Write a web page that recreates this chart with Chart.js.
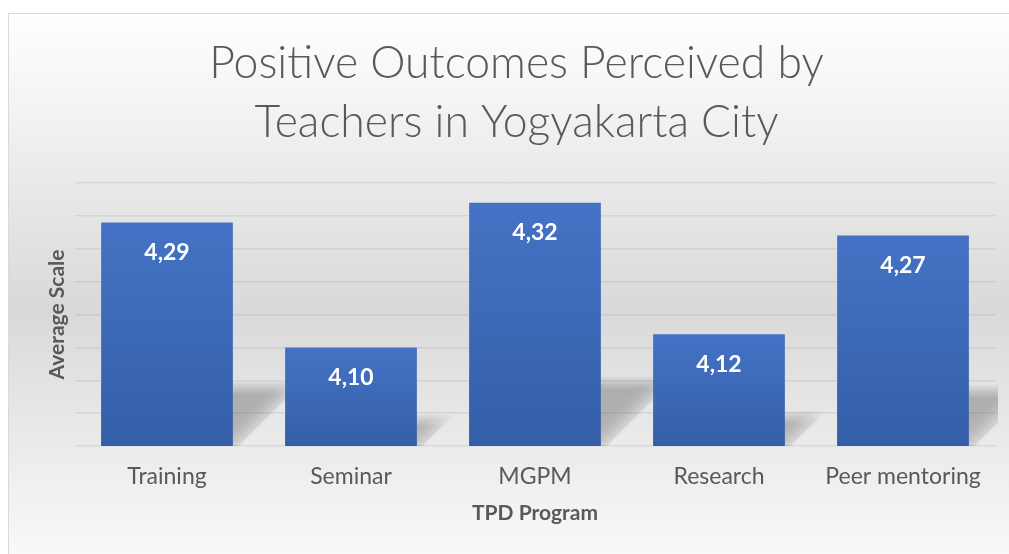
<!DOCTYPE html>
<html>
<head>
<meta charset="utf-8">
<script src="https://cdn.jsdelivr.net/npm/chart.js@4"></script>
<style>
  body { margin: 0; background: #fff; }
  #bg {
    position: absolute; left: 8px; top: 13px; width: 1020px; height: 590px;
    border-left: 1px solid #d9d9d9; border-top: 1px solid #d9d9d9;
    background: linear-gradient(to bottom, #ffffff 0%, #d9d9d9 50%, #ffffff 100%);
  }
  #wrap { position: absolute; left: 0; top: 0; width: 1009px; height: 554px; }
</style>
</head>
<body>
<div id="bg"></div>
<div id="wrap"><canvas id="chart"></canvas></div>
<script>
const programs = ["Training", "Seminar", "MGPM", "Research", "Peer mentoring"];
const averageScale = [4.29, 4.10, 4.32, 4.12, 4.27];
const chartTitle = ["Positive Outcomes Perceived by", "Teachers in Yogyakarta City"];

const FONT = "Lato, 'Open Sans', sans-serif";
const GREY = "#595959";

function fmt(v) {
    return v.toFixed(2).replace(".", ",");
}

// soft diagonal shadow behind each bar, faked with a few stacked translucent fills
const barShadow = {
    id: "barShadow",
    beforeDatasetsDraw(chart) {
        const ctx = chart.ctx;
        const area = chart.chartArea;
        const layers = 6;
        ctx.save();
        ctx.beginPath();
        ctx.rect(area.left, area.top, area.right - area.left + 3, area.bottom - area.top);
        ctx.clip();
        chart.getDatasetMeta(0).data.forEach((bar) => {
            // the axis starts above zero, so the real base is far below the plot
            const base = Math.min(bar.base, area.bottom);
            const h = base - bar.y;
            const sh = h * 0.26;
            const l = bar.x - bar.width / 2;
            const r = bar.x + bar.width / 2;
            for (let k = 0; k < layers; k++) {
                const d = (k - (layers - 1) / 2) * 2.4;
                const top = base - sh + d;
                const a = 5 + k * 1.5;
                const g = ctx.createLinearGradient(r - a, base - a, r + a, base + a);
                g.addColorStop(0, "rgba(0,0,0,0.045)");
                g.addColorStop(1, "rgba(0,0,0,0)");
                ctx.fillStyle = g;
                ctx.beginPath();
                ctx.moveTo(l, base);
                ctx.lineTo(r + 6, base);
                ctx.lineTo(r + 6 + (base - top), top);
                ctx.lineTo(l, top);
                ctx.closePath();
                ctx.fill();
            }
        });
        ctx.restore();
    }
};

// value labels inside the top of the bars
const barLabels = {
    id: "barLabels",
    afterDatasetsDraw(chart) {
        const ctx = chart.ctx;
        const ds = chart.data.datasets[0];
        ctx.save();
        ctx.fillStyle = "#ffffff";
        ctx.font = "bold 23px " + FONT;
        ctx.textAlign = "center";
        ctx.textBaseline = "middle";
        chart.getDatasetMeta(0).data.forEach((bar, i) => {
            ctx.fillText(fmt(ds.data[i]), bar.x, bar.y + 30);
        });
        ctx.restore();
    }
};

function barFill(context) {
    const chart = context.chart;
    if (!chart.chartArea || !chart.scales.y) return "#3f69b8";
    const y = chart.scales.y;
    const top = y.getPixelForValue(context.raw);
    const bottom = y.getPixelForValue(y.min);
    if (!isFinite(top) || !isFinite(bottom) || top === bottom) return "#3f69b8";
    const g = chart.ctx.createLinearGradient(0, top, 0, bottom);
    g.addColorStop(0, "#4473c5");
    g.addColorStop(1, "#345ea8");
    return g;
}

let chartEle = document.getElementById("chart");
let chart = new Chart(chartEle, {
    type: "bar",
    data: {
        labels: programs,
        datasets: [
            {
                label: "Average Scale",
                data: averageScale,
                backgroundColor: barFill,
                borderWidth: 0,
                barPercentage: 0.716,
                categoryPercentage: 1
            }
        ]
    },
    options: {
        responsive: true,
        maintainAspectRatio: false,
        animation: false,
        layout: { padding: { left: 24, right: 0, top: 0, bottom: 0 } },
        plugins: {
            legend: { display: false },
            tooltip: { enabled: false },
            title: {
                display: true,
                text: chartTitle,
                color: GREY,
                font: { family: FONT, size: 44.5, weight: "300", lineHeight: "59px" },
                padding: { top: 34, bottom: 31 }
            }
        },
        scales: {
            x: {
                grid: { display: false },
                border: { display: false },
                ticks: {
                    color: GREY,
                    font: { family: FONT, size: 23 },
                    padding: 9,
                    maxRotation: 0,
                    autoSkip: false
                },
                title: {
                    display: true,
                    text: "TPD Program",
                    color: GREY,
                    font: { family: FONT, size: 21, weight: "bold" },
                    padding: { top: 0, bottom: 28 }
                },
                afterFit: (s) => { s.height = 108; }
            },
            y: {
                min: 3.95,
                max: 4.35,
                grid: {
                    color: "rgba(0,0,0,0.075)",
                    lineWidth: 1.5,
                    drawTicks: false
                },
                border: { display: false },
                ticks: { display: false, stepSize: 0.05 },
                title: {
                    display: true,
                    text: "Average Scale",
                    color: GREY,
                    font: { family: FONT, size: 21, weight: "bold" },
                    padding: { top: 21, bottom: 0 }
                },
                afterFit: (s) => { s.width = 51; }
            },
            pad: {
                position: "right",
                display: true,
                grid: { display: false },
                border: { display: false },
                ticks: { display: false },
                afterFit: (s) => { s.width = 14; }
            }
        }
    },
    plugins: [barShadow, barLabels]
});
</script>
</body>
</html>
